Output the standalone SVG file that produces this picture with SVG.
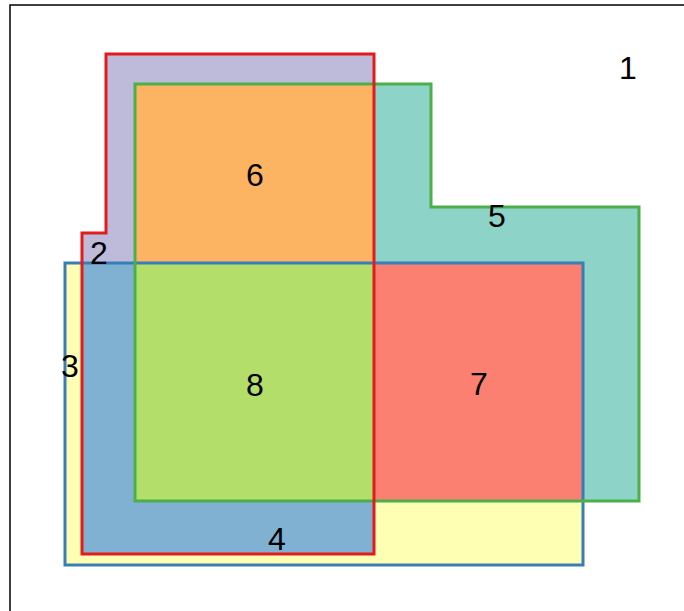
<svg xmlns="http://www.w3.org/2000/svg" width="684" height="611" viewBox="0 0 684 611">
<style>
.lbl{font-family:"Liberation Sans",Arial,sans-serif;font-size:32px;fill:#000;text-anchor:middle}
.edge{fill:none;stroke-width:3;stroke-linejoin:miter}
</style>
<rect x="0" y="0" width="684" height="611" fill="#fff"/>
<rect x="10" y="5" width="690" height="620" fill="#fff" stroke="#000" stroke-width="1.5"/>
<g id="regions">
<rect id="r3" x="65" y="263" width="518" height="302" fill="#FFFFB3"/>
<polygon id="r2" points="106,54 374,54 374,554 82,554 82,233 106,233" fill="#BEBADA"/>
<polygon id="r5" points="135,84 431,84 431,207 639,207 639,501 135,501" fill="#8DD3C7"/>
<rect id="r4" x="82" y="263" width="292" height="291" fill="#80B1D3"/>
<rect id="r6" x="135" y="84" width="239" height="417" fill="#FDB462"/>
<rect id="r7" x="135" y="263" width="448" height="238" fill="#FB8072"/>
<rect id="r8" x="135" y="263" width="239" height="238" fill="#B3DE69"/>
</g>
<g id="outlines">
<rect id="blue" class="edge" x="65" y="263" width="518" height="302" stroke="#377EB8"/>
<polygon id="green" class="edge" points="135,84 431,84 431,207 639,207 639,501 135,501" stroke="#4DAF4A"/>
<polygon id="red" class="edge" points="106,54 374,54 374,554 82,554 82,233 106,233" stroke="#E41A1C"/>
</g>
<g id="labels">
<text class="lbl" x="628" y="79">1</text>
<text class="lbl" x="99" y="264">2</text>
<text class="lbl" x="70" y="377">3</text>
<text class="lbl" x="277" y="550">4</text>
<text class="lbl" x="497" y="227">5</text>
<text class="lbl" x="255" y="186">6</text>
<text class="lbl" x="479" y="395">7</text>
<text class="lbl" x="255" y="396">8</text>
</g>
</svg>
